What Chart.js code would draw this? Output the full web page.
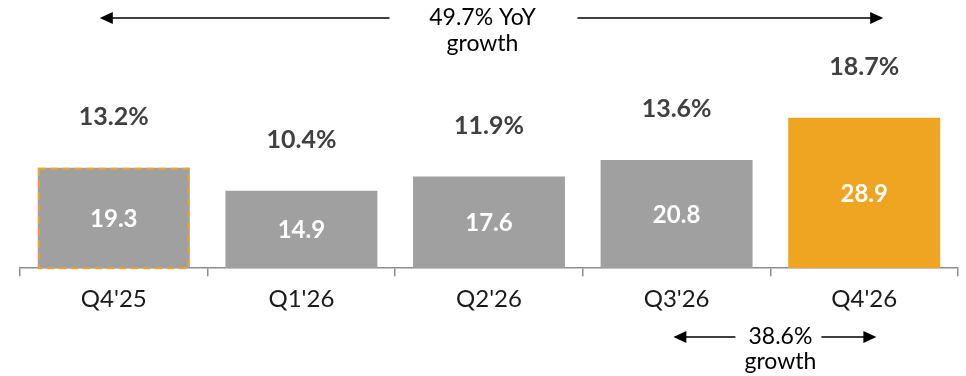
<!DOCTYPE html>
<html lang="en">
<head>
  <meta charset="UTF-8">
  <title>Quarterly Revenue</title>
  <script src="https://cdn.jsdelivr.net/npm/chart.js"></script>
  <style>
    html, body {
      margin: 0;
      padding: 0;
      background: #fff;
    }
    #wrap {
      width: 966px;
      height: 376px;
    }
  </style>
</head>
<body>
  <div id="wrap"><canvas id="revChart" width="966" height="376"></canvas></div>

  <script>
    const quarters = ["Q4'25", "Q1'26", "Q2'26", "Q3'26", "Q4'26"];
    const revenue = [19.3, 14.9, 17.6, 20.8, 28.9];
    const margins = ['13.2%', '10.4%', '11.9%', '13.6%', '18.7%'];
    const yoyText = ['49.7% YoY', 'growth'];
    const qoqText = ['38.6%', 'growth'];

    const GRAY = '#a0a0a0';
    const ORANGE = '#f0a522';
    const FONT = 'Lato, "Open Sans", sans-serif';

    const barColors = revenue.map((v, i) => i === revenue.length - 1 ? ORANGE : GRAY);

    function arrowHead(ctx, x, y, dir) {
      ctx.beginPath();
      ctx.moveTo(x, y);
      ctx.lineTo(x - dir * 13, y - 6);
      ctx.lineTo(x - dir * 13, y + 6);
      ctx.closePath();
      ctx.fill();
    }

    // split arrow with text in the middle
    function splitArrow(ctx, x1, x2, gapL, gapR, y) {
      ctx.save();
      ctx.strokeStyle = '#000';
      ctx.fillStyle = '#000';
      ctx.lineWidth = 1.3;
      ctx.beginPath();
      ctx.moveTo(x1 + 6, y); ctx.lineTo(gapL, y);
      ctx.moveTo(gapR, y); ctx.lineTo(x2 - 6, y);
      ctx.stroke();
      arrowHead(ctx, x1, y, -1);
      arrowHead(ctx, x2, y, 1);
      ctx.restore();
    }

    const labelsPlugin = {
      id: 'labels',
      afterDatasetsDraw(chart) {
        const ctx = chart.ctx;
        const meta = chart.getDatasetMeta(0);
        const xs = chart.scales.x;

        // dashed outline on the first (restated) bar
        const b0 = meta.data[0];
        ctx.save();
        ctx.strokeStyle = ORANGE;
        ctx.lineWidth = 2;
        ctx.setLineDash([7, 5]);
        ctx.strokeRect(b0.x - b0.width / 2 + 1, b0.y + 1, b0.width - 2, b0.base - b0.y - 1);
        ctx.restore();

        ctx.save();
        ctx.textAlign = 'center';
        ctx.textBaseline = 'middle';
        meta.data.forEach((bar, i) => {
          ctx.fillStyle = '#fff';
          ctx.font = 'bold 24px ' + FONT;
          ctx.fillText(revenue[i].toFixed(1), bar.x, (bar.y + bar.base) / 2 + 1);
          ctx.fillStyle = '#404040';
          ctx.font = 'bold 25px ' + FONT;
          ctx.fillText(margins[i], bar.x, bar.y - 51);
        });

        // YoY arrow across the top
        const left = xs.getPixelForValue(0) - 14;
        const right = xs.getPixelForValue(4) + 19;
        const mid = (left + right) / 2 - 9;
        splitArrow(ctx, left, right, mid - 93, mid + 95, 18);
        ctx.fillStyle = '#000';
        ctx.font = '23px ' + FONT;
        ctx.fillText(yoyText[0], mid, 18);
        ctx.fillText(yoyText[1], mid, 44);

        // QoQ arrow below the last two quarters
        const qMid = (xs.getPixelForValue(3) + xs.getPixelForValue(4)) / 2;
        splitArrow(ctx, qMid - 97, qMid + 106, qMid - 35, qMid + 51, 337);
        ctx.fillText(qoqText[0], qMid + 10, 337);
        ctx.fillText(qoqText[1], qMid + 10, 362);
        ctx.restore();
      }
    };

    new Chart(document.getElementById('revChart'), {
      type: 'bar',
      data: {
        labels: quarters,
        datasets: [{
          data: revenue,
          backgroundColor: barColors,
          borderWidth: 0,
          categoryPercentage: 0.81,
          barPercentage: 1
        }]
      },
      options: {
        responsive: false,
        animation: false,
        layout: { padding: { left: 20, right: 8, top: 60, bottom: 53 } },
        plugins: {
          legend: { display: false },
          tooltip: { enabled: false }
        },
        scales: {
          x: {
            grid: {
              offset: true,
              drawOnChartArea: false,
              drawTicks: true,
              tickLength: 8,
              color: '#8c8c96',
              lineWidth: 1.5
            },
            border: { color: '#8c8c96', width: 1.5 },
            ticks: {
              color: '#1a1a1a',
              font: { family: FONT, size: 24 },
              padding: 9
            }
          },
          y: {
            display: false,
            min: 0,
            max: 40
          }
        }
      },
      plugins: [labelsPlugin]
    });
  </script>
</body>
</html>
